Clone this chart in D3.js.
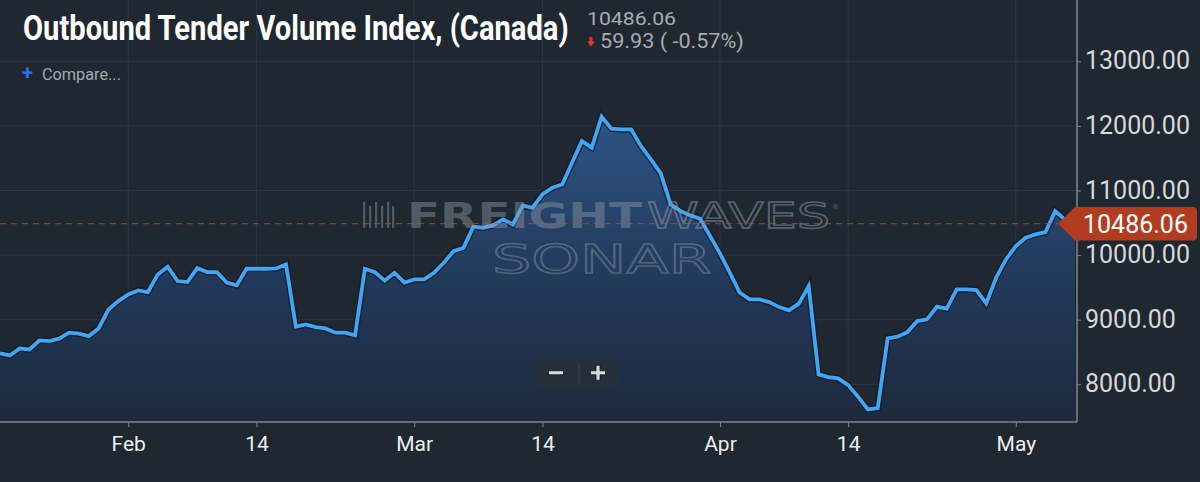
<!DOCTYPE html>
<html>
<head>
<meta charset="utf-8">
<script src="https://cdn.jsdelivr.net/npm/d3@7"></script>
<style>
  html, body { margin: 0; padding: 0; background: #1f2731; }
  svg { display: block; }
</style>
</head>
<body>
<svg id="chart" width="1200" height="482"></svg>
<script>
/* ── Outbound Tender Volume Index (Canada) — dark SONAR style ── */

const START_DATE = '2020-01-19';   // first daily point
const otviValues = [
    8478, 8447, 8556, 8540, 8680, 8669, 8706, 8799, 8783, 8746,
    8865, 9159, 9288, 9392, 9454, 9428, 9701, 9820, 9598, 9582,
    9799, 9737, 9737, 9573, 9531, 9789, 9789, 9789, 9794, 9856,
    8892, 8927, 8885, 8865, 8799, 8799, 8757, 9789, 9737, 9605,
    9727, 9573, 9624, 9624, 9727, 9882, 10062, 10115, 10440, 10424,
    10460, 10553, 10475, 10769, 10733, 10940, 11043, 11094, 11430, 11765,
    11663, 12142, 11957, 11946, 11946, 11687, 11481, 11265, 10785, 10681,
    10615, 10563, 10294, 10026, 9727, 9420, 9314, 9314, 9273, 9195,
    9144, 9248, 9520, 8153, 8112, 8091, 7988, 7808, 7611, 7632,
    8711, 8737, 8808, 8978, 9005, 9201, 9170, 9469, 9469, 9458,
    9252, 9650, 9933, 10139, 10269, 10320, 10356, 10681, 10546, 10486.06
];
const yTickValues = [8000, 9000, 10000, 11000, 12000, 13000];
const xTickDates  = ['2020-02-01', '2020-02-14', '2020-03-01', '2020-03-14', '2020-04-01', '2020-04-14', '2020-05-01'];
const xTickLabels = ['Feb', '14', 'Mar', '14', 'Apr', '14', 'May'];
const lastValue   = 10486.06;
const changeText  = '59.93 ( -0.57%)';

const W = 1200, H = 482;
const PLOT_RIGHT = 1077, PLOT_BOTTOM = 422;

const parse = d3.utcParse('%Y-%m-%d');
const start = parse(START_DATE);
const data = otviValues.map((v, i) => ({ date: d3.utcDay.offset(start, i), value: v }));

const svg = d3.select('#chart');

/* squeeze/stretch a text horizontally so it spans `width` px from its x */
function fitWidth(sel, width) {
    const node = sel.node();
    const natural = node.getComputedTextLength();
    const x0 = +sel.attr('x');
    const k = width / natural;
    sel.attr('transform', `translate(${x0},0) scale(${k},1) translate(${-x0},0)`);
    return sel;
}

const x = d3.scaleUtc()
    .domain([data[0].date, data[data.length - 1].date])
    .range([0, 1075]);
const y = d3.scaleLinear()
    .domain([8000, 13000])
    .range([384.3, 61.3]);

/* background */
svg.append('rect').attr('width', W).attr('height', H).attr('fill', '#1f2731');

const defs = svg.append('defs');
const grad = defs.append('linearGradient')
    .attr('id', 'areaGrad')
    .attr('gradientUnits', 'userSpaceOnUse')
    .attr('x1', 0).attr('x2', 0).attr('y1', 110).attr('y2', PLOT_BOTTOM);
grad.append('stop').attr('offset', '0%').attr('stop-color', '#2d5587');
grad.append('stop').attr('offset', '55%').attr('stop-color', '#22395a');
grad.append('stop').attr('offset', '100%').attr('stop-color', '#1d2a3d');

defs.append('clipPath').attr('id', 'plotClip')
    .append('rect').attr('x', 0).attr('y', 0).attr('width', PLOT_RIGHT).attr('height', PLOT_BOTTOM);

/* grid */
const grid = svg.append('g').attr('stroke', '#2b3643').attr('stroke-width', 1);
grid.selectAll('.hg').data(yTickValues).enter().append('line')
    .attr('x1', 0).attr('x2', PLOT_RIGHT)
    .attr('y1', d => y(d)).attr('y2', d => y(d));
grid.selectAll('.vg').data(xTickDates).enter().append('line')
    .attr('x1', d => x(parse(d))).attr('x2', d => x(parse(d)))
    .attr('y1', 0).attr('y2', PLOT_BOTTOM);

/* area */
const plot = svg.append('g').attr('clip-path', 'url(#plotClip)');

plot.append('path')
    .datum(data)
    .attr('fill', 'url(#areaGrad)')
    .attr('d', d3.area().x(d => x(d.date)).y0(PLOT_BOTTOM).y1(d => y(d.value)));

/* watermark */
const wm = svg.append('g');
[0, 6, 12, 18, 24, 29].forEach((dx, i) => {
    wm.append('rect')
        .attr('x', 363 + dx).attr('y', i % 2 ? 206 : 202)
        .attr('width', 2.2).attr('height', i % 2 ? 22 : 26)
        .attr('fill', '#8d98a4').attr('opacity', 0.45);
});
fitWidth(wm.append('text')
    .attr('x', 407).attr('y', 228)
    .attr('font-family', 'DejaVu Sans, sans-serif').attr('font-weight', 'bold')
    .attr('font-size', 36)
    .attr('fill', '#8d98a4').attr('opacity', 0.45)
    .text('FREIGHT'), 235);
fitWidth(wm.append('text')
    .attr('x', 647).attr('y', 228)
    .attr('font-family', 'DejaVu Sans, sans-serif')
    .attr('font-size', 36)
    .attr('fill', 'none').attr('stroke', '#8d98a4').attr('stroke-width', 1.3).attr('opacity', 0.55)
    .text('WAVES'), 183);
wm.append('text')
    .attr('x', 832).attr('y', 209)
    .attr('font-family', 'DejaVu Sans, sans-serif').attr('font-size', 7)
    .attr('fill', '#8d98a4').attr('opacity', 0.5)
    .text('®');
fitWidth(wm.append('text')
    .attr('x', 492).attr('y', 273)
    .attr('font-family', 'DejaVu Sans, sans-serif')
    .attr('font-size', 39)
    .attr('fill', 'none').attr('stroke', '#8d98a4').attr('stroke-width', 1.4).attr('opacity', 0.45)
    .text('SONAR'), 220);

/* last value dashed line */
svg.append('line')
    .attr('x1', 0).attr('x2', 1058)
    .attr('y1', y(lastValue)).attr('y2', y(lastValue))
    .attr('stroke', '#c2492b').attr('stroke-width', 1)
    .attr('stroke-dasharray', '6,5').attr('opacity', 0.85);

/* line */
const line = d3.line().x(d => x(d.date)).y(d => y(d.value));
plot.append('path')
    .datum(data)
    .attr('fill', 'none').attr('stroke', '#0f1822').attr('stroke-width', 6.5)
    .attr('stroke-linejoin', 'miter').attr('opacity', 0.7)
    .attr('d', line);
plot.append('path')
    .datum(data)
    .attr('fill', 'none').attr('stroke', '#42a6f4').attr('stroke-width', 3.8)
    .attr('stroke-linejoin', 'miter')
    .attr('d', line);

/* axes frame */
svg.append('line')
    .attr('x1', 0).attr('x2', PLOT_RIGHT).attr('y1', PLOT_BOTTOM).attr('y2', PLOT_BOTTOM)
    .attr('stroke', '#80868d').attr('stroke-width', 1.5);
svg.append('line')
    .attr('x1', PLOT_RIGHT).attr('x2', PLOT_RIGHT).attr('y1', 0).attr('y2', PLOT_BOTTOM)
    .attr('stroke', '#80868d').attr('stroke-width', 1.5);

/* y axis (right) */
const yAxis = svg.append('g')
    .attr('transform', `translate(${PLOT_RIGHT},0)`)
    .call(d3.axisRight(y).tickValues(yTickValues).tickFormat(d3.format('.2f')).tickSize(4).tickPadding(4));
yAxis.select('.domain').remove();
yAxis.selectAll('.tick line').attr('stroke', '#80868d');
yAxis.selectAll('.tick text')
    .attr('fill', '#d6d8da').attr('font-family', 'Roboto, sans-serif').attr('font-size', 25)
    .attr('dy', '0.3em');

/* x axis (bottom) */
const xAxis = svg.append('g')
    .attr('transform', `translate(0,${PLOT_BOTTOM})`)
    .call(d3.axisBottom(x)
        .tickValues(xTickDates.map(parse))
        .tickFormat((d, i) => xTickLabels[i])
        .tickSize(5).tickPadding(9));
xAxis.select('.domain').remove();
xAxis.selectAll('.tick line').attr('stroke', '#80868d');
xAxis.selectAll('.tick text')
    .attr('fill', '#eceef0').attr('font-family', 'Roboto, sans-serif').attr('font-size', 21);

/* last value marker */
const ly = y(lastValue);
svg.append('path')
    .attr('d', `M1058,${ly} L1075,${ly - 16.7} L1193,${ly - 16.7} Q1197,${ly - 16.7} 1197,${ly - 12.7}
                L1197,${ly + 12.7} Q1197,${ly + 16.7} 1193,${ly + 16.7} L1075,${ly + 16.7} Z`)
    .attr('fill', '#b23c1f');
fitWidth(svg.append('text')
    .attr('x', 1083).attr('y', ly + 9.5)
    .attr('font-family', 'Roboto, sans-serif').attr('font-size', 26)
    .attr('fill', '#ffffff')
    .text(d3.format('.2f')(lastValue)), 105);

/* zoom buttons */
const zb = svg.append('g');
zb.append('rect').attr('x', 536).attr('y', 358).attr('width', 83).attr('height', 30).attr('rx', 4)
    .attr('fill', '#27303a').attr('opacity', 0.95);
zb.append('line').attr('x1', 579).attr('x2', 579).attr('y1', 362).attr('y2', 384)
    .attr('stroke', '#3a4550').attr('stroke-width', 1);
zb.append('rect').attr('x', 548.5).attr('y', 370.8).attr('width', 15).attr('height', 4)
    .attr('fill', '#d9d9d9').attr('stroke', '#10161d').attr('stroke-width', 0.8);
zb.append('path')
    .attr('d', 'M590.5,370.8 h5.5 v-5.5 h4 v5.5 h5.5 v4 h-5.5 v5.5 h-4 v-5.5 h-5.5 Z')
    .attr('fill', '#d9d9d9').attr('stroke', '#10161d').attr('stroke-width', 0.8);

/* header */
fitWidth(svg.append('text')
    .attr('x', 23).attr('y', 40)
    .attr('font-family', 'Roboto, sans-serif').attr('font-weight', 'bold')
    .attr('font-size', 35)
    .attr('fill', '#ffffff')
    .text('Outbound Tender Volume Index, (Canada)'), 546);
fitWidth(svg.append('text')
    .attr('x', 587).attr('y', 25)
    .attr('font-family', 'Roboto, sans-serif').attr('font-size', 18)
    .attr('fill', '#a7acb2')
    .text(d3.format('.2f')(lastValue)), 89);
svg.append('path')
    .attr('d', 'M589.5,37 h3 v4.5 h2.5 l-4,5 l-4,-5 h2.5 Z')
    .attr('fill', '#e8342f');
fitWidth(svg.append('text')
    .attr('x', 600).attr('y', 48)
    .attr('font-family', 'Roboto, sans-serif').attr('font-size', 19.5)
    .attr('fill', '#a7acb2')
    .text(changeText), 144);
svg.append('text')
    .attr('x', 22).attr('y', 80)
    .attr('font-family', 'Roboto, sans-serif').attr('font-weight', 'bold').attr('font-size', 20)
    .attr('fill', '#2f6ee6')
    .text('+');
fitWidth(svg.append('text')
    .attr('x', 42).attr('y', 80)
    .attr('font-family', 'Roboto, sans-serif').attr('font-size', 16)
    .attr('fill', '#a3a9b0')
    .text('Compare...'), 79);
</script>
</body>
</html>
